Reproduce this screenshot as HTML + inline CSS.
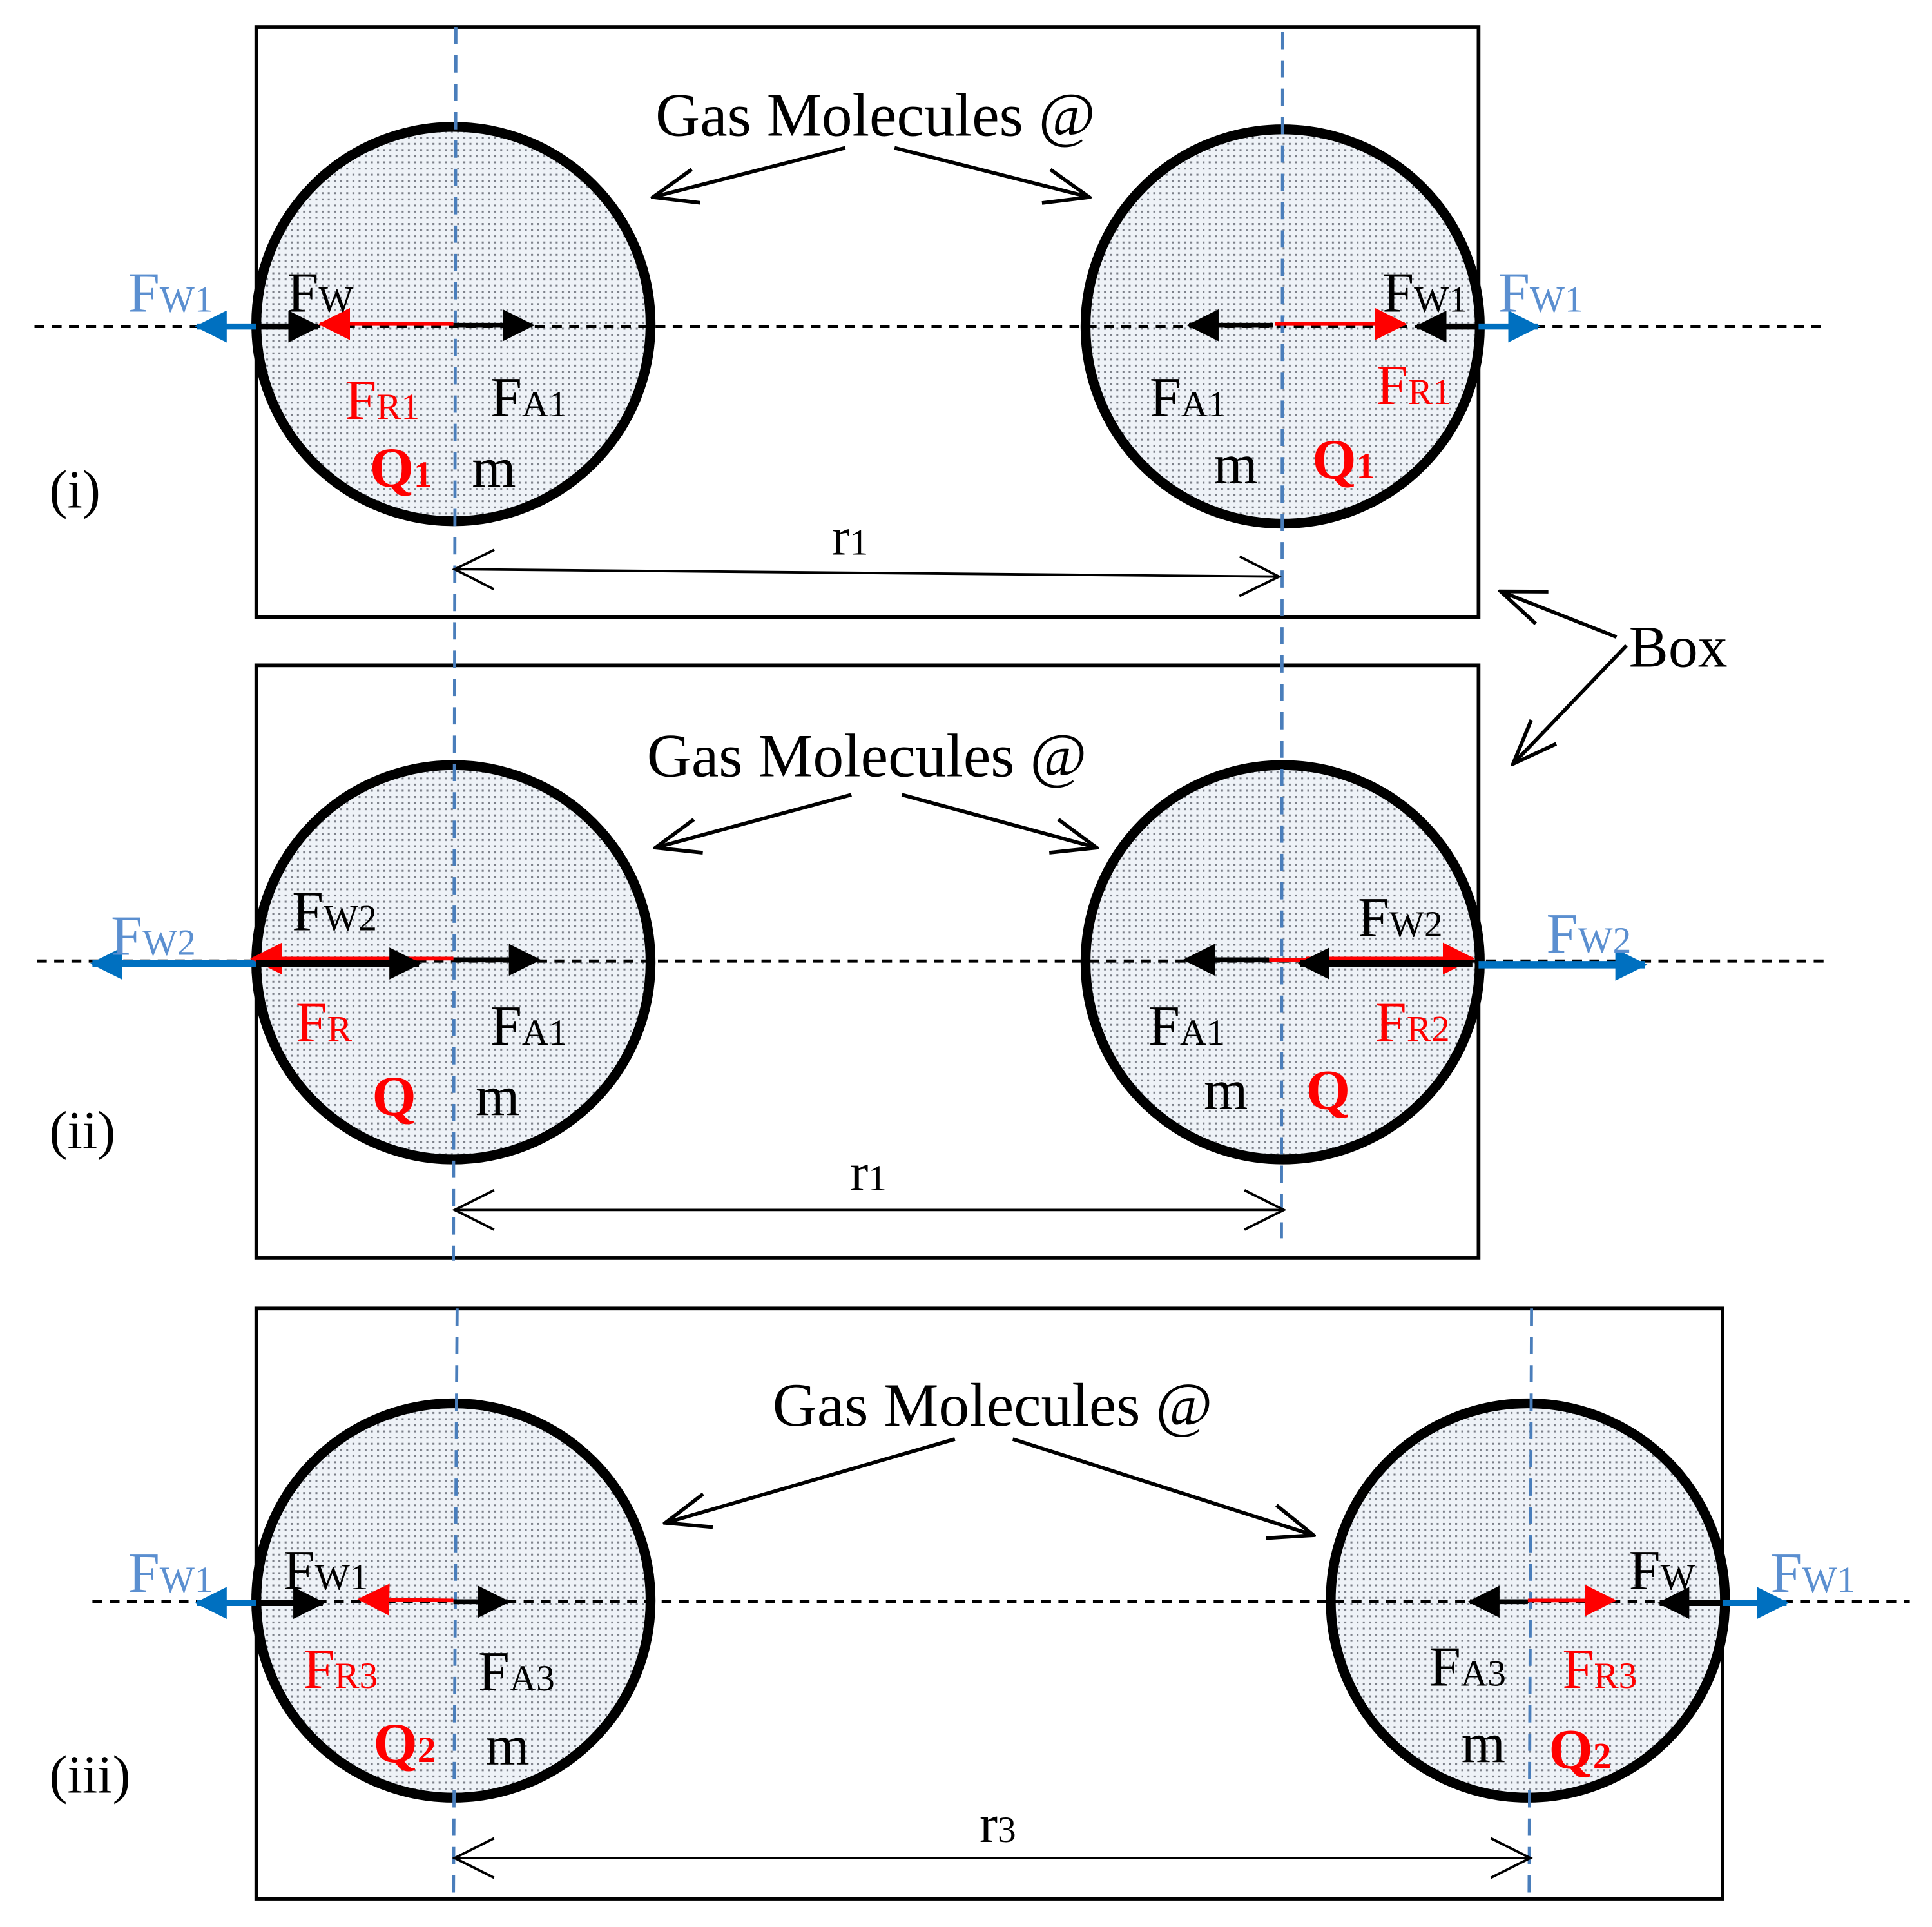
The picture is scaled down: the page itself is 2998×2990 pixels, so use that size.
<!DOCTYPE html>
<html><head><meta charset="utf-8"><style>
html,body{margin:0;padding:0;background:#fff;}
svg{display:block;}
text{font-family:"Liberation Serif",serif;}
</style></head><body>
<svg width="2998" height="2990" viewBox="0 0 1568 1564" preserveAspectRatio="none" xmlns="http://www.w3.org/2000/svg">
<defs>
<pattern id="dots" width="5" height="5" patternUnits="userSpaceOnUse">
<rect width="5" height="5" fill="#eef2f7"/>
<rect x="1" y="1" width="1.6" height="1.6" fill="#7c8089"/>
</pattern>
<marker id="hkb" markerWidth="26" markerHeight="26" refX="24" refY="13" orient="auto" markerUnits="userSpaceOnUse" viewBox="0 0 26 26"><path d="M0,0 L26,13 L0,26 Z" fill="#000"/></marker>
<marker id="hr" markerWidth="26" markerHeight="26" refX="24" refY="13" orient="auto" markerUnits="userSpaceOnUse" viewBox="0 0 26 26"><path d="M0,0 L26,13 L0,26 Z" fill="#f00"/></marker>
<marker id="hb" markerWidth="26" markerHeight="26" refX="24" refY="13" orient="auto" markerUnits="userSpaceOnUse" viewBox="0 0 26 26"><path d="M0,0 L26,13 L0,26 Z" fill="#0070c0"/></marker>
<marker id="ho" markerWidth="40" markerHeight="40" refX="38" refY="20" orient="auto" markerUnits="userSpaceOnUse" viewBox="0 0 40 40"><path d="M2,6 L38,20 L2,34" fill="none" stroke="#000" stroke-width="3"/></marker>
<marker id="hos" markerWidth="40" markerHeight="40" refX="38" refY="20" orient="auto-start-reverse" markerUnits="userSpaceOnUse" viewBox="0 0 40 40"><path d="M6,4 L38,20 L6,36" fill="none" stroke="#000" stroke-width="2"/></marker>
</defs>

<g fill="none" stroke="#000" stroke-width="3">
<rect x="208" y="22" width="992" height="479"/>
<rect x="208" y="540" width="992" height="481"/>
<rect x="208" y="1062" width="1190" height="479"/>
</g>

<g fill="url(#dots)" stroke="#000" stroke-width="8">
<circle cx="368" cy="263" r="160"/>
<circle cx="1041" cy="265" r="160"/>
<circle cx="368" cy="781" r="160"/>
<circle cx="1041" cy="781" r="160"/>
<circle cx="368" cy="1299" r="160"/>
<circle cx="1240" cy="1299" r="160"/>
</g>

<g stroke="#000" stroke-width="2.5" stroke-dasharray="8,6">
<line x1="28" y1="265" x2="1480" y2="265"/>
<line x1="30" y1="780" x2="1485" y2="780"/>
<line x1="75" y1="1300" x2="1550" y2="1300"/>
</g>

<g stroke="#4a7ebb" stroke-width="2.5" stroke-dasharray="14,9">
<line x1="370" y1="22" x2="368" y2="1023"/>
<line x1="1041" y1="26" x2="1040" y2="1005"/>
<line x1="371" y1="1062" x2="368" y2="1540"/>
<line x1="1243" y1="1062" x2="1241" y2="1540"/>
</g>

<line x1="208" y1="265" x2="160" y2="265" stroke="#0070c0" stroke-width="5" marker-end="url(#hb)"/>
<line x1="208" y1="265" x2="258" y2="265" stroke="#000" stroke-width="5" marker-end="url(#hkb)"/>
<line x1="368" y1="263" x2="260" y2="263" stroke="#f00" stroke-width="3" marker-end="url(#hr)"/>
<line x1="368" y1="264" x2="432" y2="264" stroke="#000" stroke-width="4" marker-end="url(#hkb)"/>
<line x1="1033" y1="264" x2="965" y2="264" stroke="#000" stroke-width="4" marker-end="url(#hkb)"/>
<line x1="1035" y1="263" x2="1140" y2="263" stroke="#f00" stroke-width="3" marker-end="url(#hr)"/>
<line x1="1200" y1="265" x2="1150" y2="265" stroke="#000" stroke-width="5" marker-end="url(#hkb)"/>
<line x1="1200" y1="265" x2="1248" y2="265" stroke="#0070c0" stroke-width="5" marker-end="url(#hb)"/>

<line x1="208" y1="782" x2="75" y2="782" stroke="#0070c0" stroke-width="6" marker-end="url(#hb)"/>
<line x1="340" y1="778" x2="205" y2="778" stroke="#f00" stroke-width="3" marker-end="url(#hr)"/>
<line x1="208" y1="782" x2="340" y2="782" stroke="#000" stroke-width="6" marker-end="url(#hkb)"/>
<line x1="338" y1="778" x2="368" y2="778" stroke="#f00" stroke-width="3"/>
<line x1="368" y1="779" x2="437" y2="779" stroke="#000" stroke-width="4" marker-end="url(#hkb)"/>
<line x1="1030" y1="779" x2="962" y2="779" stroke="#000" stroke-width="4" marker-end="url(#hkb)"/>
<line x1="1030" y1="779" x2="1060" y2="779" stroke="#f00" stroke-width="3"/>
<line x1="1060" y1="778" x2="1195" y2="778" stroke="#f00" stroke-width="3" marker-end="url(#hr)"/>
<line x1="1195" y1="782" x2="1055" y2="782" stroke="#000" stroke-width="6" marker-end="url(#hkb)"/>
<line x1="1200" y1="783" x2="1335" y2="783" stroke="#0070c0" stroke-width="6" marker-end="url(#hb)"/>

<line x1="208" y1="1301" x2="160" y2="1301" stroke="#0070c0" stroke-width="5" marker-end="url(#hb)"/>
<line x1="208" y1="1301" x2="262" y2="1301" stroke="#000" stroke-width="5" marker-end="url(#hkb)"/>
<line x1="368" y1="1299" x2="292" y2="1298" stroke="#f00" stroke-width="3" marker-end="url(#hr)"/>
<line x1="368" y1="1300" x2="412" y2="1300" stroke="#000" stroke-width="4" marker-end="url(#hkb)"/>
<line x1="1240" y1="1300" x2="1193" y2="1300" stroke="#000" stroke-width="4" marker-end="url(#hkb)"/>
<line x1="1240" y1="1299" x2="1310" y2="1299" stroke="#f00" stroke-width="3" marker-end="url(#hr)"/>
<line x1="1398" y1="1301" x2="1347" y2="1301" stroke="#000" stroke-width="5" marker-end="url(#hkb)"/>
<line x1="1398" y1="1301" x2="1450" y2="1301" stroke="#0070c0" stroke-width="5" marker-end="url(#hb)"/>

<g stroke="#000" stroke-width="3" fill="none">
<line x1="686" y1="120" x2="530" y2="160" marker-end="url(#ho)"/>
<line x1="726" y1="120" x2="884" y2="160" marker-end="url(#ho)"/>
<line x1="691" y1="645" x2="532" y2="688" marker-end="url(#ho)"/>
<line x1="732" y1="645" x2="890" y2="688" marker-end="url(#ho)"/>
<line x1="775" y1="1168" x2="540" y2="1236" marker-end="url(#ho)"/>
<line x1="822" y1="1168" x2="1066" y2="1246" marker-end="url(#ho)"/>
<line x1="1312" y1="517" x2="1218" y2="480" marker-end="url(#ho)"/>
<line x1="1320" y1="524" x2="1228" y2="620" marker-end="url(#ho)"/>
</g>
<g stroke="#000" stroke-width="2" fill="none">
<line x1="369" y1="462" x2="1038" y2="468" marker-start="url(#hos)" marker-end="url(#hos)"/>
<line x1="369" y1="982" x2="1042" y2="982" marker-start="url(#hos)" marker-end="url(#hos)"/>
<line x1="369" y1="1508" x2="1242" y2="1508" marker-start="url(#hos)" marker-end="url(#hos)"/>
</g>

<g font-size="50" fill="#000">
<text x="532" y="110">Gas Molecules @</text>
<text x="525" y="630">Gas Molecules @</text>
<text x="627" y="1157">Gas Molecules @</text>
<text x="1322" y="541" font-size="48">Box</text>
<text x="40" y="412" font-size="44">(i)</text>
<text x="40" y="932" font-size="44">(ii)</text>
<text x="40" y="1455" font-size="44">(iii)</text>
<text x="675" y="450" font-size="44">r<tspan font-size="30">1</tspan></text>
<text x="690" y="966" font-size="44">r<tspan font-size="30">1</tspan></text>
<text x="795" y="1495" font-size="44">r<tspan font-size="30">3</tspan></text>
</g>

<g font-size="46">
<text x="104" y="253" fill="#5b8fd0">F<tspan font-size="30">W1</tspan></text>
<text x="233" y="253" fill="#000">F<tspan font-size="30">W</tspan></text>
<text x="280" y="340" fill="#f00">F<tspan font-size="30">R1</tspan></text>
<text x="398" y="338" fill="#000">F<tspan font-size="30">A1</tspan></text>
<text x="300" y="395" fill="#f00" font-weight="bold">Q<tspan font-size="30">1</tspan></text>
<text x="383" y="395" fill="#000">m</text>
<text x="1122" y="253" fill="#000">F<tspan font-size="30">W1</tspan></text>
<text x="1216" y="253" fill="#5b8fd0">F<tspan font-size="30">W1</tspan></text>
<text x="933" y="338" fill="#000">F<tspan font-size="30">A1</tspan></text>
<text x="1117" y="328" fill="#f00">F<tspan font-size="30">R1</tspan></text>
<text x="985" y="392" fill="#000">m</text>
<text x="1065" y="388" fill="#f00" font-weight="bold">Q<tspan font-size="30">1</tspan></text>
<text x="90" y="775" fill="#5b8fd0">F<tspan font-size="30">W2</tspan></text>
<text x="237" y="755" fill="#000">F<tspan font-size="30">W2</tspan></text>
<text x="240" y="845" fill="#f00">F<tspan font-size="30">R</tspan></text>
<text x="398" y="848" fill="#000">F<tspan font-size="30">A1</tspan></text>
<text x="302" y="905" fill="#f00" font-weight="bold">Q</text>
<text x="386" y="905" fill="#000">m</text>
<text x="1102" y="760" fill="#000">F<tspan font-size="30">W2</tspan></text>
<text x="1255" y="773" fill="#5b8fd0">F<tspan font-size="30">W2</tspan></text>
<text x="932" y="848" fill="#000">F<tspan font-size="30">A1</tspan></text>
<text x="1116" y="845" fill="#f00">F<tspan font-size="30">R2</tspan></text>
<text x="977" y="900" fill="#000">m</text>
<text x="1060" y="900" fill="#f00" font-weight="bold">Q</text>
<text x="104" y="1292" fill="#5b8fd0">F<tspan font-size="30">W1</tspan></text>
<text x="230" y="1290" fill="#000">F<tspan font-size="30">W1</tspan></text>
<text x="246" y="1370" fill="#f00">F<tspan font-size="30">R3</tspan></text>
<text x="388" y="1372" fill="#000">F<tspan font-size="30">A3</tspan></text>
<text x="303" y="1430" fill="#f00" font-weight="bold">Q<tspan font-size="30">2</tspan></text>
<text x="394" y="1432" fill="#000">m</text>
<text x="1322" y="1290" fill="#000">F<tspan font-size="30">W</tspan></text>
<text x="1437" y="1292" fill="#5b8fd0">F<tspan font-size="30">W1</tspan></text>
<text x="1160" y="1368" fill="#000">F<tspan font-size="30">A3</tspan></text>
<text x="1268" y="1370" fill="#f00">F<tspan font-size="30">R3</tspan></text>
<text x="1186" y="1430" fill="#000">m</text>
<text x="1257" y="1435" fill="#f00" font-weight="bold">Q<tspan font-size="30">2</tspan></text>
</g>
</svg>
</body></html>
